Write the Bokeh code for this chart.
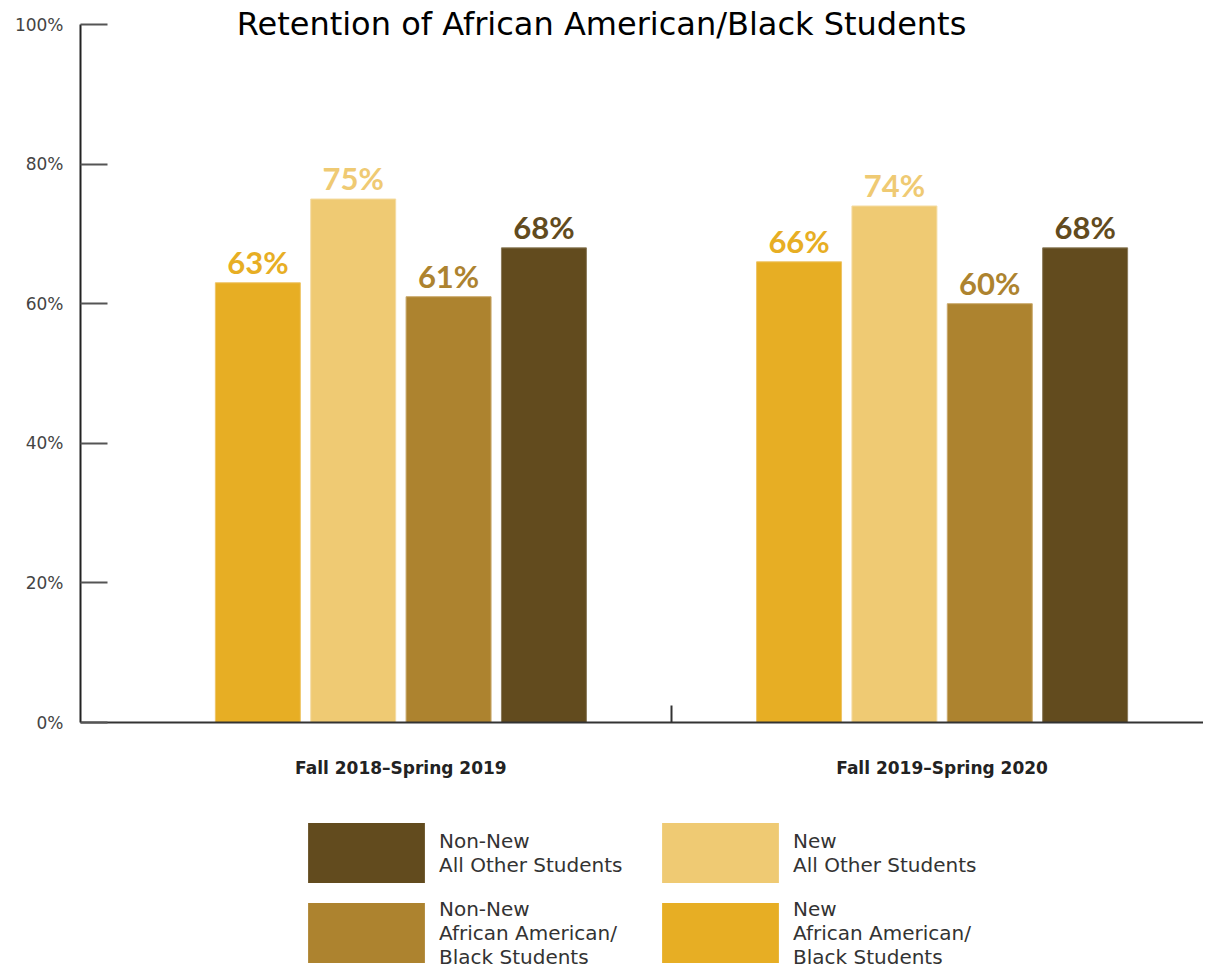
from bokeh.plotting import figure
from bokeh.layouts import column
from bokeh.models import (ColumnDataSource, Range1d, FixedTicker, PrintfTickFormatter,
                          Legend, LegendItem, Label)
from bokeh.transform import dodge
from bokeh.core.properties import value
from bokeh.embed import file_html
from bokeh.resources import INLINE

# ---- data ----
periods = ["Fall 2018\u2013Spring 2019", "Fall 2019\u2013Spring 2020"]
series_names = [
    "New\nAfrican American/\nBlack Students",
    "New\nAll Other Students",
    "Non-New\nAfrican American/\nBlack Students",
    "Non-New\nAll Other Students",
]
new_aa = [63, 66]
new_other = [75, 74]
nonnew_aa = [61, 60]
nonnew_other = [68, 68]
colors = ["#E7AE24", "#EFCA73", "#AD832F", "#624B1E"]
outlines = ["#EEC466", "#F4DCA4", "#C9A86A", "#8A7A5A"]
y_ticks = [0, 20, 40, 60, 80, 100]

series_values = [new_aa, new_other, nonnew_aa, nonnew_other]
centers = [i + 0.5 for i in range(len(periods))]

W = 1203
# frame top sits at the canvas top; 100% lies 24px below it
p = figure(width=W, height=800, output_backend="svg", toolbar_location=None,
           x_range=Range1d(-0.092, 1.983), y_range=Range1d(0, 103.44),
           min_border_left=80, min_border_top=0, min_border_right=0,
           min_border_bottom=78)
p.outline_line_color = None
p.grid.grid_line_color = None
p.background_fill_color = "white"

step = 0.1762
bar_w = 0.157
offsets = [-1.5 * step, -0.5 * step, 0.5 * step, 1.5 * step]

sources = []
for vals, col, oc, off in zip(series_values, colors, outlines, offsets):
    src = ColumnDataSource(dict(x=centers, top=vals, lab=[f"{v}%" for v in vals]))
    sources.append(src)
    p.vbar(x=dodge("x", off, range=p.x_range), top="top", width=bar_w, bottom=0,
           source=src, fill_color=col, line_color=oc, line_width=1)
    p.text(x=dodge("x", off, range=p.x_range), y="top", text="lab", source=src,
           text_align="center", text_baseline="bottom", y_offset=-2,
           text_font=value("Lato"), text_font_style="bold", text_font_size="31px",
           text_color=col)

# axes
yax = p.yaxis[0]
yax.ticker = FixedTicker(ticks=y_ticks)
yax.bounds = (0, 100)
yax.formatter = PrintfTickFormatter(format="%d%%")
yax.axis_line_color = "#222222"
yax.axis_line_width = 2
yax.major_tick_in = 27
yax.major_tick_out = 0
yax.major_tick_line_color = "#555555"
yax.major_tick_line_width = 2
yax.minor_tick_line_color = None
yax.major_label_standoff = 17
yax.major_label_text_font = "DejaVu Sans"
yax.major_label_text_font_size = "17px"
yax.major_label_text_color = "#444444"

xax = p.xaxis[0]
xax.ticker = FixedTicker(ticks=centers, minor_ticks=[1.0])
xax.major_label_overrides = {c: name for c, name in zip(centers, periods)}
xax.axis_line_color = "#333333"
xax.axis_line_width = 2
xax.major_tick_line_color = None
xax.major_tick_in = 0
xax.major_tick_out = 0
xax.minor_tick_in = 17
xax.minor_tick_out = 0
xax.minor_tick_line_color = "#333333"
xax.minor_tick_line_width = 2
xax.major_label_standoff = 35
xax.major_label_text_font = "DejaVu Sans"
xax.major_label_text_font_style = "bold"
xax.major_label_text_font_size = "17px"
xax.major_label_text_color = "#222222"

# title inside the top strip of the frame
title = Label(x=-0.092, y=100, x_offset=521, y_offset=1,
              text="Retention of African American/Black Students",
              text_align="center", text_baseline="middle", text_font="DejaVu Sans",
              text_font_size="32px", text_color="#000000")
p.add_layout(title)

# legend figure below; its ranges lie outside the data so only the legend shows
lg = figure(width=W, height=170, output_backend="svg", toolbar_location=None,
            x_range=Range1d(10, 11), y_range=Range1d(1000, 1001),
            x_axis_type=None, y_axis_type=None,
            min_border_left=0, min_border_right=0, min_border_top=0, min_border_bottom=0)
lg.outline_line_color = None
lg.grid.grid_line_color = None

legend_renderers = []
for src, col in zip(sources, colors):
    legend_renderers.append(lg.vbar(x="x", top="top", bottom=0, width=0.1, source=src,
                                    fill_color=col, line_color=None))

order = [3, 2, 1, 0]
items = [LegendItem(label=series_names[i], renderers=[legend_renderers[i]]) for i in order]
legend = Legend(items=items, ncols=2, glyph_width=146, glyph_height=75,
                label_standoff=-7, label_width=203, spacing=5,
                label_text_font="DejaVu Sans", label_text_font_size="20px",
                label_text_color="#333333", label_text_line_height=1.2,
                border_line_color=None, background_fill_alpha=0,
                margin=0, padding=10, location=(213, 0))
lg.add_layout(legend)

layout = column(p, lg, spacing=0)
open("out.html", "w").write(file_html(layout, INLINE))
